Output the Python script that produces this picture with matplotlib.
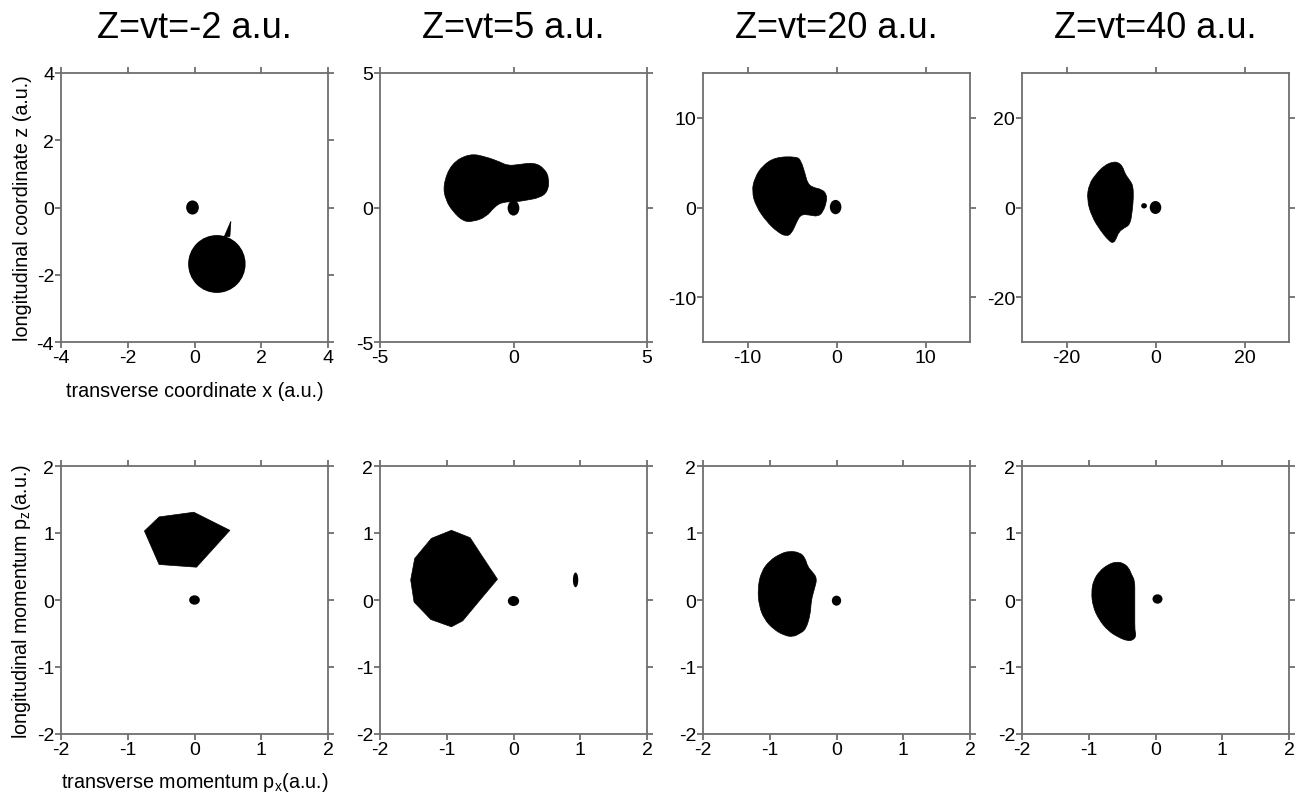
import numpy as np
import matplotlib
matplotlib.use("Agg")
import matplotlib.pyplot as plt
from matplotlib.path import Path
from matplotlib.patches import PathPatch, Ellipse, Polygon

plt.rcParams['font.family'] = ['Liberation Sans', 'DejaVu Sans']
plt.rcParams['mathtext.fontset'] = 'custom'
plt.rcParams['mathtext.rm'] = 'Liberation Sans'
plt.rcParams['mathtext.it'] = 'Liberation Sans'
plt.rcParams['axes.unicode_minus'] = False

# ---- data ----
titles = ["Z=vt=-2 a.u.", "Z=vt=5 a.u.", "Z=vt=20 a.u.", "Z=vt=40 a.u."]
top_lims = [4, 5, 15, 30]
top_ticks = [[-4, -2, 0, 2, 4], [-5, 0, 5], [-10, 0, 10], [-20, 0, 20]]
bot_ticks = [-2, -1, 0, 1, 2]

# coordinate space, Z=-2: thin spike on top of the round cloud (cloud is in dots_top)
spike1_x = [0.89, 1.09, 1.06]
spike1_y = [-0.87, -0.41, -0.86]

# coordinate space, Z=5
blob2_x = [-2.64, -2.33, -1.64, -1.02, -0.52, -0.21, 0.22, 0.78, 1.16, 1.34, 1.28, 0.97, 0.47, 0.10, -0.40, -0.71, -1.02, -1.52, -1.89, -2.26, -2.54]
blob2_y = [0.83, 1.64, 2.01, 1.88, 1.70, 1.55, 1.60, 1.67, 1.45, 1.08, 0.58, 0.36, 0.27, 0.21, 0.21, 0.03, -0.35, -0.53, -0.51, -0.16, 0.27]

# coordinate space, Z=20
blob3_x = [-6.88, -4.47, -3.99, -3.51, -3.27, -2.79, -1.59, -1.11, -1.11, -1.49, -2.07, -3.03, -3.99, -4.47, -5.05, -5.67, -6.63, -7.84, -9.04, -9.52, -9.18, -8.32]
blob3_y = [5.61, 5.68, 5.23, 3.71, 2.77, 2.27, 2.01, 1.44, 0.68, -0.45, -1.02, -0.83, -0.76, -1.59, -2.92, -3.22, -2.73, -1.59, 0.11, 1.82, 3.33, 4.66]

# coordinate space, Z=40
blob4_x = [-9.52, -8.29, -7.33, -6.86, -5.71, -5.05, -4.95, -5.24, -5.71, -7.14, -8.29, -8.86, -9.52, -10.48, -12.38, -14.29, -15.43, -14.95, -13.33, -11.43]
blob4_y = [10.19, 10.04, 9.04, 7.51, 5.98, 4.83, 2.15, -0.92, -3.83, -4.60, -5.52, -7.05, -7.97, -7.43, -5.13, -2.07, 1.76, 5.21, 7.51, 9.43]

# momentum space, Z=-2 (polygon)
blob5_x = [-0.75, -0.53, -0.01, 0.53, 0.03, -0.53]
blob5_y = [1.03, 1.24, 1.31, 1.04, 0.49, 0.53]

# momentum space, Z=5 (polygon)
blob6_x = [-0.93, -0.65, -0.48, -0.24, -0.51, -0.76, -0.93, -1.24, -1.49, -1.54, -1.48, -1.23]
blob6_y = [1.04, 0.93, 0.67, 0.31, -0.01, -0.31, -0.40, -0.29, -0.03, 0.30, 0.62, 0.92]

# momentum space, Z=20
blob7_x = [-0.71, -0.55, -0.47, -0.43, -0.36, -0.29, -0.33, -0.38, -0.39, -0.46, -0.55, -0.65, -0.78, -0.94, -1.08, -1.16, -1.18, -1.13, -1.00, -0.84]
blob7_y = [0.73, 0.71, 0.63, 0.49, 0.42, 0.32, 0.17, -0.01, -0.21, -0.44, -0.50, -0.55, -0.53, -0.44, -0.29, -0.09, 0.17, 0.42, 0.59, 0.69]

# momentum space, Z=40
blob8_x = [-0.59, -0.48, -0.40, -0.36, -0.31, -0.31, -0.31, -0.31, -0.29, -0.34, -0.42, -0.55, -0.71, -0.85, -0.94, -0.96, -0.93, -0.84, -0.71]
blob8_y = [0.57, 0.55, 0.48, 0.38, 0.29, 0.07, -0.24, -0.46, -0.54, -0.60, -0.61, -0.56, -0.46, -0.29, -0.09, 0.12, 0.29, 0.43, 0.53]

# round spots: (x, y, width, height)
dots_top = [
    [(-0.06, 0.0, 0.38, 0.42), (0.67, -1.68, 1.72, 1.72)],
    [(0.0, -0.02, 0.44, 0.56)],
    [(-0.1, 0.05, 1.3, 1.6)],
    [(-2.57, 0.38, 1.3, 1.2), (0.0, 0.0, 2.6, 2.9)],
]
dots_bot = [
    [(0.0, 0.0, 0.16, 0.14)],
    [(0.0, -0.015, 0.17, 0.15), (0.93, 0.30, 0.08, 0.22)],
    [(0.0, -0.01, 0.14, 0.15)],
    [(0.03, 0.015, 0.15, 0.14)],
]

top_blobs = [None, (blob2_x, blob2_y), (blob3_x, blob3_y), (blob4_x, blob4_y)]
bot_blobs = [(blob5_x, blob5_y), (blob6_x, blob6_y), (blob7_x, blob7_y), (blob8_x, blob8_y)]
bot_smooth = [False, False, True, True]


def smooth_path(xs, ys):
    # closed quadratic b-spline through the traced outline
    pts = np.column_stack([xs, ys])
    mids = (pts + np.roll(pts, -1, axis=0)) / 2
    verts = [mids[-1]]
    codes = [Path.MOVETO]
    for i in range(len(pts)):
        verts += [pts[i], mids[i]]
        codes += [Path.CURVE3, Path.CURVE3]
    verts.append(mids[-1])
    codes.append(Path.CLOSEPOLY)
    return Path(verts, codes)


def style_axes(ax):
    for s in ax.spines.values():
        s.set_color('#6e6e6e')
        s.set_linewidth(1.3)
    ax.tick_params(direction='out', length=4, width=1.1, color='#555555',
                   top=True, right=True, labelsize=14, pad=1)


fig = plt.figure(figsize=(13.02, 8.04), dpi=100)
W, H = 1302.0, 804.0
lefts = [61, 380, 703, 1022]
width = 267

for i in range(4):
    # top row: coordinate space
    ax = fig.add_axes([lefts[i] / W, 1 - 343 / H, width / W, 269 / H])
    L = top_lims[i]
    if top_blobs[i] is not None:
        bx, by = top_blobs[i]
        ax.add_patch(PathPatch(smooth_path(bx, by), facecolor='black', edgecolor='black', lw=0.5))
    if i == 0:
        ax.add_patch(Polygon(np.column_stack([spike1_x, spike1_y]), closed=True,
                             facecolor='black', edgecolor='black', lw=0.5))
    for (dx, dy, dw, dh) in dots_top[i]:
        ax.add_patch(Ellipse((dx, dy), dw, dh, facecolor='black', edgecolor='none'))
    ax.set_xlim(-L, L)
    ax.set_ylim(-L, L)
    ax.set_xticks(top_ticks[i])
    ax.set_yticks(top_ticks[i])
    style_axes(ax)
    fig.text((lefts[i] + width / 2) / W, 1 - 29 / H, titles[i], ha='center', va='center', fontsize=26)
    if i == 0:
        ax.set_xlabel("transverse coordinate x (a.u.)", fontsize=14.2, labelpad=11)
        ax.set_ylabel("longitudinal coordinate z (a.u.)", fontsize=14.2, labelpad=3)

    # bottom row: momentum space
    ax = fig.add_axes([lefts[i] / W, 1 - 735 / H, width / W, 268 / H])
    bx, by = bot_blobs[i]
    if bot_smooth[i]:
        ax.add_patch(PathPatch(smooth_path(bx, by), facecolor='black', edgecolor='black', lw=0.5))
    else:
        ax.add_patch(Polygon(np.column_stack([bx, by]), closed=True,
                             facecolor='black', edgecolor='black', lw=0.5))
    for (dx, dy, dw, dh) in dots_bot[i]:
        ax.add_patch(Ellipse((dx, dy), dw, dh, facecolor='black', edgecolor='none'))
    ax.set_xlim(-2, 2)
    ax.set_ylim(-2, 2)
    ax.set_xticks(bot_ticks)
    ax.set_yticks(bot_ticks)
    style_axes(ax)
    if i == 0:
        ax.set_xlabel(r"transverse momentum p$_\mathrm{x}$(a.u.)", fontsize=14.2, labelpad=9)
        ax.set_ylabel(r"longitudinal momentum p$_\mathrm{z}$(a.u.)", fontsize=14.2, labelpad=3)

fig.savefig("out.png", dpi=100, facecolor='white')
